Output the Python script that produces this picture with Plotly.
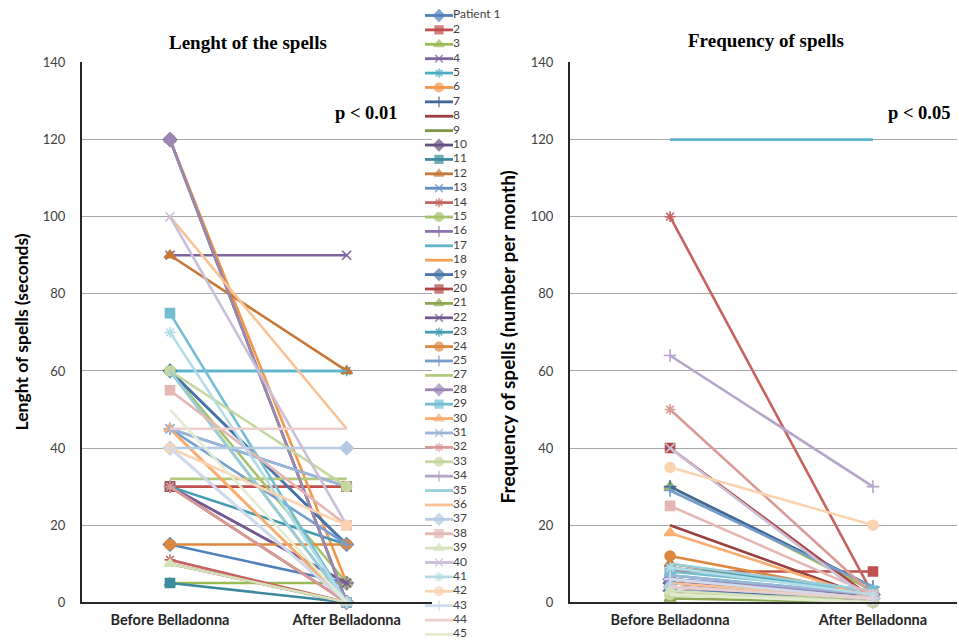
import plotly.graph_objects as go

# ---------------- data ----------------
series_numbers = [1, 2, 3, 4, 5, 6, 7, 8, 9, 10, 11, 12, 13, 14, 15, 16, 17, 18, 19, 20,
                  21, 22, 23, 24, 25, 27, 28, 29, 30, 31, 32, 33, 34, 35, 36, 37, 38, 39,
                  40, 41, 42, 43, 44, 45]
legend_labels = ["Patient 1"] + [str(n) for n in series_numbers[1:]]
categories = ["Before Belladonna", "After Belladonna"]
y_ticks = [0, 20, 40, 60, 80, 100, 120, 140]

length_before = [15, 30, 5, 90, 60, 120, 60, 10, 60, 120, 5, 90, 45, 11, 60, 30, 60, 45, 60, 30,
                 120, 30, 30, 15, 45, 32, 120, 75, 45, 45, 30, 60, 40, 60, 100, 40, 55, 10,
                 100, 70, 40, 40, 45, 50]
length_after = [5, 30, 5, 90, 60, 5, 15, 0, 0, 0, 0, 60, 30, 0, 5, 5, 60, 0, 15, 0,
                0, 5, 15, 15, 15, 32, 0, 0, 0, 30, 0, 30, 0, 0, 45, 40, 20, 0,
                20, 0, 20, 0, 45, 0]

freq_before = [6, 8, 30, 5, 7, 4, 30, 20, 3, 5, 6, 10, 4, 100, 2, 4, 120, 6, 3, 40,
               1, 5, 9, 12, 29, 2, 6, 8, 18, 7, 50, 2, 64, 10, 5, 4, 25, 3,
               40, 9, 35, 6, 4, 2]
freq_after = [2, 8, 3, 1, 2, 1, 4, 1, 0, 2, 1, 2, 1, 2, 0, 0, 120, 1, 1, 1,
              0, 1, 3, 2, 4, 1, 2, 3, 1, 2, 2, 0, 30, 3, 1, 1, 2, 0,
              0, 2, 20, 1, 1, 0]

# ---------------- styles (Excel 2007 like) ----------------
base_colors = [(0x4F, 0x81, 0xBD), (0xC0, 0x50, 0x4D), (0x9B, 0xBB, 0x59),
               (0x80, 0x64, 0xA2), (0x4B, 0xAC, 0xC6), (0xF7, 0x96, 0x46)]
group_mods = [("n", 0), ("s", 0.8), ("t", 0.1), ("s", 0.9), ("t", 0.22),
              ("t", 0.42), ("t", 0.58), ("t", 0.72)]


def series_color(n):
    r, g, b = base_colors[(n - 1) % 6]
    kind, f = group_mods[(n - 1) // 6]
    if kind == "s":
        r, g, b = r * f, g * f, b * f
    elif kind == "t":
        r, g, b = r + (255 - r) * f, g + (255 - g) * f, b + (255 - b) * f
    return "rgb(%d,%d,%d)" % (round(r), round(g), round(b))


marker_cycle = ["diamond", "square", "triangle-up", "x-thin", "asterisk", "circle",
                "cross-thin", None, None]
marker_sizes = {"diamond": 10, "square": 9, "triangle-up": 10, "x-thin": 9,
                "asterisk": 9, "circle": 10, "cross-thin": 9}


def marker_for(n, scale=1.0):
    sym = marker_cycle[(n - 1) % 9]
    col = series_color(n)
    if sym is None:
        return dict(size=0, color=col, opacity=0)
    return dict(symbol=sym, size=marker_sizes[sym] * scale, color=col,
                line=dict(color=col, width=1.6))


# figure geometry: observed mapping screen_y = VS * (PAGE_OFF + fig_y)
W = 959
HF = 650
VS = 0.9757
PAGE_OFF = 7.7


def fig_y(y_screen):
    return y_screen / VS - PAGE_OFF


def py(y_screen):
    """screen y pixel -> paper fraction"""
    return 1 - fig_y(y_screen) / HF


fig = go.Figure()

# panels
for xa, ya, before, after in [("x", "y", length_before, length_after),
                              ("x2", "y2", freq_before, freq_after)]:
    for i, n in enumerate(series_numbers):
        fig.add_trace(go.Scatter(
            x=[0, 1], y=[before[i], after[i]], xaxis=xa, yaxis=ya,
            mode="lines+markers", line=dict(color=series_color(n), width=2.6),
            marker=marker_for(n), showlegend=False, hoverinfo="skip",
            cliponaxis=False))

# manual legend (axis in screen-pixel units)
leg_top, leg_step = 15, 14.4
for i, n in enumerate(series_numbers):
    yy = leg_top + i * leg_step
    m = marker_for(n, 0.85)
    if "symbol" in m:
        m["size"] = [0, m["size"], 0]
    fig.add_trace(go.Scatter(
        x=[425, 439, 453], y=[yy, yy, yy], xaxis="x3", yaxis="y3",
        mode="lines+markers", line=dict(color=series_color(n), width=2.8),
        marker=m, showlegend=False, hoverinfo="skip", cliponaxis=False))
fig.add_trace(go.Scatter(
    x=[453] * len(series_numbers),
    y=[leg_top + i * leg_step for i in range(len(series_numbers))],
    text=legend_labels, mode="text", textposition="middle right",
    textfont=dict(family="Lato", size=12, color="#404040"),
    xaxis="x3", yaxis="y3", showlegend=False, hoverinfo="skip", cliponaxis=False))

ydom = [py(602), py(62)]
yaxis_common = dict(range=[0, 140], tickvals=y_ticks, showgrid=True, gridcolor="#A6A6A6",
                    gridwidth=1.3, zeroline=False, showline=True, linecolor="#262626",
                    linewidth=2, ticks="", ticklabelstandoff=12,
                    tickfont=dict(family="Lato", size=13, color="#404040"), domain=ydom)
xaxis_common = dict(tickvals=[0, 1], ticktext=categories, showgrid=False, zeroline=False,
                    showline=True, linecolor="#262626", linewidth=2, ticks="",
                    ticklabelstandoff=3,
                    tickfont=dict(family="Lato", size=14.5, color="#262626", weight="bold"))

fig.update_layout(
    width=W, height=HF, margin=dict(l=0, r=0, t=0, b=0),
    paper_bgcolor="white", plot_bgcolor="rgba(0,0,0,0)",
    xaxis=dict(xaxis_common, domain=[82 / W, 432 / W], range=[-0.498, 1.483], anchor="y"),
    yaxis=dict(yaxis_common, anchor="x"),
    xaxis2=dict(xaxis_common, domain=[570 / W, 957 / W], range=[-0.493, 1.414], anchor="y2"),
    yaxis2=dict(yaxis_common, anchor="x2"),
    xaxis3=dict(domain=[0, 1], range=[0, W], visible=False, anchor="y3"),
    yaxis3=dict(domain=[0, 1], range=[(HF + PAGE_OFF) * VS, PAGE_OFF * VS],
                visible=False, anchor="x3"),
    showlegend=False,
)

serif_title = dict(family="Liberation Serif", size=19, color="#000000", weight="bold")
serif_p = dict(family="Liberation Serif", size=18.5, color="#000000", weight="bold")
annos = [
    dict(text="Lenght of the spells", x=248 / W, y=py(42), font=serif_title),
    dict(text="Frequency of spells", x=766 / W, y=py(40), font=serif_title),
    dict(text="p < 0.01", x=366 / W, y=py(113), font=serif_p),
    dict(text="p < 0.05", x=919 / W, y=py(113), font=serif_p),
    dict(text="Lenght of spells (seconds)", x=21 / W, y=py(332),
         font=dict(family="Lato", size=17.5, color="#000000", weight="bold"), textangle=-90),
    dict(text="Frequency of spells (number per month)", x=507 / W, y=py(337),
         font=dict(family="Lato", size=19, color="#000000", weight="bold"), textangle=-90),
]
for a in annos:
    fig.add_annotation(xref="paper", yref="paper", showarrow=False,
                       xanchor="center", yanchor="middle", **a)

fig.write_html(
    "out.html",
    config={"displayModeBar": False},
    post_script="document.body.style.margin='0';"
                "document.documentElement.style.overflow='hidden';",
)
